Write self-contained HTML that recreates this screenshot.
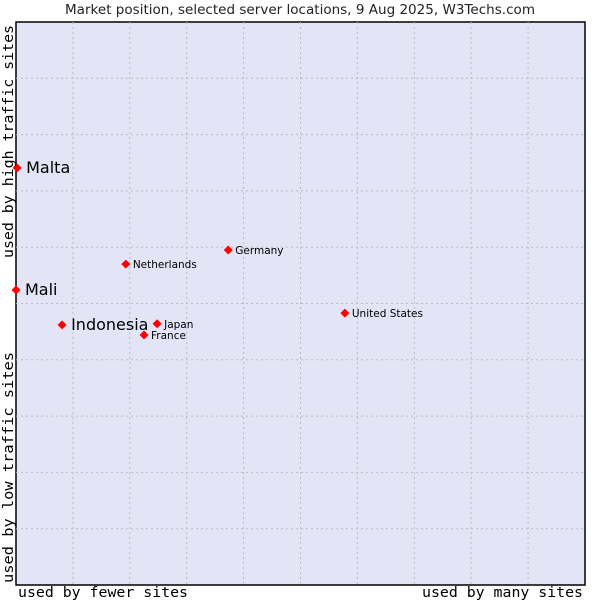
<!DOCTYPE html>
<html><head><meta charset="utf-8"><style>
body{margin:0;background:#fff;}
svg{display:block;}
</style></head><body>
<svg id="chart" width="600" height="600" xmlns="http://www.w3.org/2000/svg">
<text x="300" y="14" text-anchor="middle" textLength="470" lengthAdjust="spacingAndGlyphs" font-family="DejaVu Sans, sans-serif" font-size="13" fill="#222">Market position, selected server locations, 9 Aug 2025, W3Techs.com</text>
<rect x="16" y="22" width="569" height="563" fill="#e3e5f7" stroke="#000" stroke-width="1.5"/>
<g id="grid"></g>
<g id="points"></g>
<text x="18" y="597" textLength="170" lengthAdjust="spacingAndGlyphs" font-family="DejaVu Sans Mono, monospace" font-size="14" fill="#000">used by fewer sites</text>
<text x="422" y="597" textLength="161" lengthAdjust="spacingAndGlyphs" font-family="DejaVu Sans Mono, monospace" font-size="14" fill="#000">used by many sites</text>
<text transform="translate(13,583) rotate(-90)" textLength="231" lengthAdjust="spacingAndGlyphs" font-family="DejaVu Sans Mono, monospace" font-size="14" fill="#000">used by low traffic sites</text>
<text transform="translate(13,258) rotate(-90)" textLength="233" lengthAdjust="spacingAndGlyphs" font-family="DejaVu Sans Mono, monospace" font-size="14" fill="#000">used by high traffic sites</text>
</svg>
<script>
const names = ["Malta","Mali","Indonesia","Netherlands","Germany","United States","Japan","France"];
const xValues = [0.02,0.0,0.81,1.93,3.73,5.78,2.48,2.25];
const yValues = [7.41,5.24,4.62,5.70,5.95,4.83,4.64,4.44];
const bigLabels = [true,true,true,false,false,false,false,false];
const L=16,T=22,W=569,H=563;
const sx=v=>L+v/10*W, sy=v=>T+H-v/10*H;
const NS="http://www.w3.org/2000/svg";
const grid=document.getElementById('grid');
for(let i=1;i<10;i++){
  const v=document.createElementNS(NS,'line');
  v.setAttribute('x1',sx(i));v.setAttribute('x2',sx(i));v.setAttribute('y1',T);v.setAttribute('y2',T+H);
  v.setAttribute('stroke','#bbb');v.setAttribute('stroke-dasharray','2,3');
  
  
  grid.appendChild(v);
  const h=document.createElementNS(NS,'line');
  h.setAttribute('y1',sy(i));h.setAttribute('y2',sy(i));h.setAttribute('x1',L);h.setAttribute('x2',L+W);
  h.setAttribute('stroke','#bbb');h.setAttribute('stroke-dasharray','2,3');
  
  
  grid.appendChild(h);
}
const pts=document.getElementById('points');
names.forEach((n,i)=>{
  const x=sx(xValues[i]),y=sy(yValues[i]);
  const d=document.createElementNS(NS,'path');
  d.setAttribute('d',`M${x-4.5},${y} L${x},${y-4.5} L${x+4.5},${y} L${x},${y+4.5} Z`);
  d.setAttribute('fill','#f00');
  
  
  pts.appendChild(d);
  const t=document.createElementNS(NS,'text');
  t.setAttribute('x',x+(bigLabels[i]?9:7));
  t.setAttribute('y',y+(bigLabels[i]?5:4));
  t.setAttribute('font-family','DejaVu Sans, sans-serif');
  t.setAttribute('font-size',bigLabels[i]?16:10.5);
  t.setAttribute('fill','#000');
  t.textContent=n;
  
  
  pts.appendChild(t);
});
</script>
</body></html>
